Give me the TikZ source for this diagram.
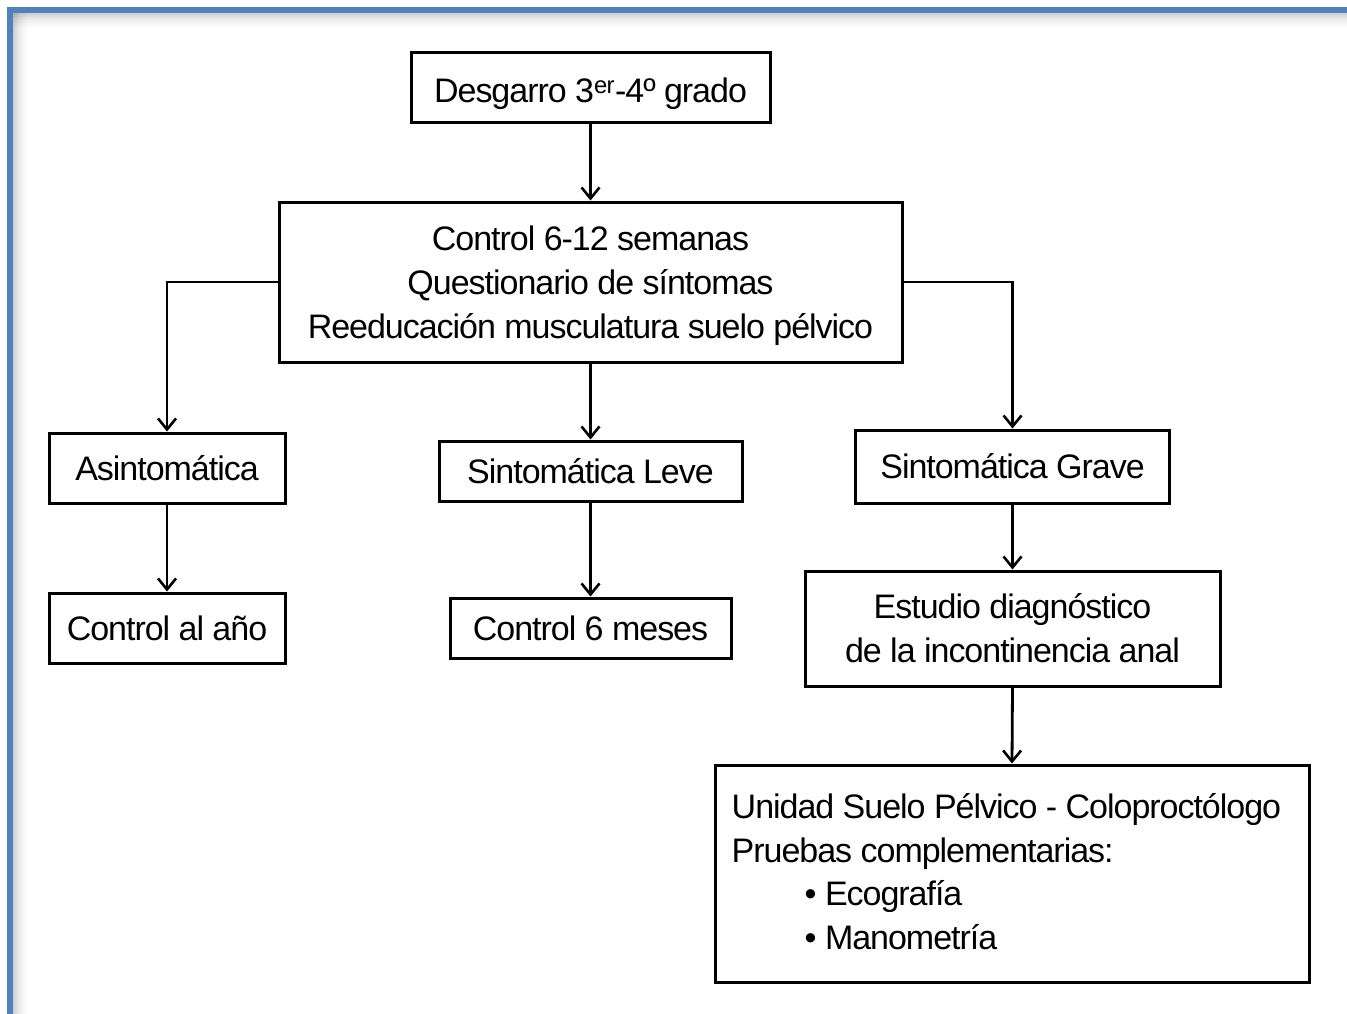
\documentclass[tikz,border=0pt]{standalone}
\usepackage{fontspec}
\setmainfont[LetterSpace=-3]{Liberation Sans}
\usetikzlibrary{arrows.meta}
\definecolor{frameblue}{HTML}{4F81BD}
\begin{document}
\begin{tikzpicture}[x=1pt,y=-1pt,
  box/.style={draw=black,line width=3pt,rectangle,inner sep=0pt,align=center,
    font=\fontsize{34}{44}\selectfont},
  txt/.style={inner sep=0pt,align=left,font=\fontsize{34}{43.5}\selectfont},
  conn/.style={draw=black,line width=2.8pt,-{Straight Barb[length=11pt,width=18pt,line width=2.6pt]}}]
\useasboundingbox (0,0) rectangle (1347,1014);
\fill[white] (0,0) rectangle (1347,1014);
% shadow of frame
\foreach \i/\o in {0/0.18,1/0.14,2/0.10,3/0.07,4/0.05,5/0.03,6/0.02}{
  \fill[black,opacity=\o] (13+2*\i,13) rectangle (15+2*\i,1014);
  \fill[black,opacity=\o] (13,13+2*\i) rectangle (1347,15+2*\i);
}
\fill[frameblue] (7,7) rectangle (1347,13);
\fill[frameblue] (7,10) rectangle (13,1014);

\node[box,minimum width=359pt,minimum height=70pt] (desg) at (590.5,88) {\raisebox{-6pt}[\height][\depth]{Desgarro 3\smash{\textsuperscript{er}}-4º grado}};
\node[box,minimum width=623pt,minimum height=160pt] (ctrl) at (590.5,282) {\rule{0pt}{33pt}Control 6-12 semanas\\Questionario de síntomas\\Reeducación musculatura suelo pélvico};
\node[box,minimum width=236pt,minimum height=70pt] (asin) at (167,468) {Asintomática};
\node[box,minimum width=303pt,minimum height=60pt] (leve) at (590.5,471) {Sintomática Leve};
\node[box,minimum width=314pt,minimum height=73pt] (grave) at (1012.5,466.5) {Sintomática Grave};
\node[box,minimum width=236pt,minimum height=70pt] (anio) at (167,628) {Control al año};
\node[box,minimum width=281pt,minimum height=60pt] (seis) at (590.5,628) {Control 6 meses};
\node[box,minimum width=415pt,minimum height=115pt] (estu) at (1012.5,628.5) {Estudio diagnóstico\\de la incontinencia anal};
\node[box,minimum width=594pt,minimum height=217pt] (unid) at (1012,873.5) {};
\node[txt,anchor=west] (unidtxt) at ([xshift=18pt,yshift=2pt]unid.west) {Unidad Suelo Pélvico - Coloproctólogo\\Pruebas complementarias:\\\hspace*{73pt}• Ecografía\\\hspace*{73pt}• Manometría};

\draw[conn] (desg.south) -- (ctrl.north);
\draw[conn] (ctrl.west) -| (asin.north);
\draw[conn] (ctrl.south) -- (leve.north);
\draw[conn] (ctrl.east) -| (grave.north);
\draw[conn] (asin.south) -- (anio.north);
\draw[conn] (leve.south) -- (seis.north);
\draw[conn] (grave.south) -- (estu.north);
\draw[conn] (estu.south) -- (unid.north);
\end{tikzpicture}
\end{document}
